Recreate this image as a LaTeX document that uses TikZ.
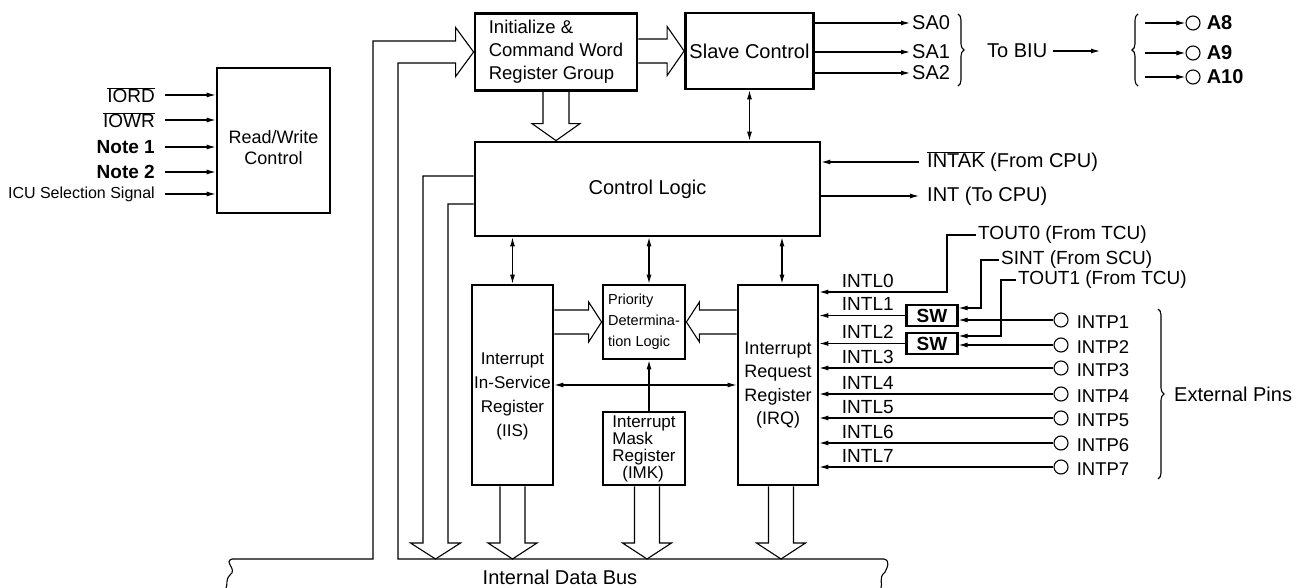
\documentclass[tikz,border=0pt]{standalone}
\usepackage{fontspec}
\setmainfont{Liberation Sans}
\usetikzlibrary{positioning, arrows.meta, calc, decorations.pathreplacing}

\begin{document}
\begin{tikzpicture}[
  x=1pt, y=-1pt,
  block/.style = {draw, line width=2.8pt, inner sep=0pt},
  sig/.style = {-{Latex[length=9pt,width=5pt]}, line width=1.1pt},
  bisig/.style = {{Latex[length=9pt,width=5pt]}-{Latex[length=9pt,width=5pt]}, line width=1.1pt},
  bus/.style = {line width=1.1pt, line join=miter},
  lbl/.style = {inner sep=2pt, font=\fontsize{19}{22}\selectfont},
  intl/.style = {lbl, anchor=south west, xshift=20pt, yshift=2pt},
  pin/.style = {draw, circle, line width=1.1pt, minimum size=14pt, inner sep=0pt},
  brc/.style = {decorate, decoration={brace, amplitude=6pt}, line width=1.1pt}
]
  \useasboundingbox (0,0) rectangle (1309,588);

  % Place the blocks
  \node[block, minimum width=113, minimum height=145,
    label={[lbl, align=center, yshift=-7pt, font=\fontsize{18}{21}\selectfont]center:{Read/Write\\Control}}] (rw) at (273.5,140.5) {};
  \node[block, minimum width=162, minimum height=77, align=left, font=\fontsize{18.5}{23}\selectfont] (init) at (556,52) {Initialize \&\\Command Word\\Register Group};
  \node[block, minimum width=128, minimum height=76, font=\fontsize{20}{24}\selectfont] (slave) at (749.5,51) {Slave Control};
  \node[block, minimum width=345, minimum height=94, font=\fontsize{20}{24}\selectfont] (ctrl) at (647.5,189) {Control Logic};
  \node[block, minimum width=81, minimum height=200,
    label={[lbl, align=center, yshift=-11pt, font=\fontsize{17}{24}\selectfont]center:{Interrupt\\In-Service\\Register\\(IIS)}}] (iis) at (512.5,385) {};
  \node[block, minimum width=82, minimum height=74, align=left, font=\fontsize{14.5}{21}\selectfont] (prio) at (644,322) {Priority\\Determina-\\tion Logic};
  \node[block, minimum width=82, minimum height=73, align=left, font=\fontsize{17}{17}\selectfont] (imk) at (644,448.5) {Interrupt\\Mask\\Register\\\hspace*{10pt}(IMK)};
  \node[block, minimum width=80, minimum height=200, align=center, font=\fontsize{18}{23.5}\selectfont] (irq) at (778,385) {Interrupt\\Request\\Register\\(IRQ)};
  \node[block, line width=2.3pt, minimum width=51, minimum height=21, font=\bfseries\fontsize{19}{22}\selectfont] (sw1) at (932,315.5) {SW};
  \node[block, line width=2.3pt, minimum width=51, minimum height=21, font=\bfseries\fontsize{19}{22}\selectfont] (sw2) at (932,343.5) {SW};

  % Read/Write inputs
  \node[lbl, anchor=east] (iord) at (157,95) {$\overline{\mbox{IORD}}$};
  \node[lbl, anchor=east] (iowr) at (157,120) {$\overline{\mbox{IOWR}}$};
  \node[lbl, anchor=east, font=\bfseries\fontsize{19}{22}\selectfont] (note1) at (157,147) {Note 1};
  \node[lbl, anchor=east, font=\bfseries\fontsize{19}{22}\selectfont] (note2) at (157,172) {Note 2};
  \node[lbl, anchor=east, font=\fontsize{16}{19}\selectfont] (icusel) at (157,194) {ICU Selection Signal};
  \draw[sig] ([xshift=8pt]iord.east) -- (iord.east -| rw.west);
  \draw[sig] ([xshift=8pt]iowr.east) -- (iowr.east -| rw.west);
  \draw[sig] ([xshift=8pt]note1.east) -- (note1.east -| rw.west);
  \draw[sig] ([xshift=8pt]note2.east) -- (note2.east -| rw.west);
  \draw[sig] ([xshift=8pt]icusel.east) -- (icusel.east -| rw.west);

  % Slave control outputs to the BIU
  \node[lbl, anchor=west, font=\fontsize{20}{24}\selectfont] (sa0) at (910,23) {SA0};
  \node[lbl, anchor=west, font=\fontsize{20}{24}\selectfont] (sa1) at (910,52) {SA1};
  \node[lbl, anchor=west, font=\fontsize{20}{24}\selectfont] (sa2) at (910,73) {SA2};
  \draw[sig] (slave.east |- sa0.west) -- (sa0.west);
  \draw[sig] (slave.east |- sa1.west) -- (sa1.west);
  \draw[sig] (slave.east |- sa2.west) -- (sa2.west);
  \coordinate (sabrtop) at (958,14);
  \coordinate (sabrbot) at (958,86);
  \draw[brc] (sabrtop) -- (sabrbot);
  \node[lbl, anchor=west, font=\fontsize{20}{24}\selectfont] (tobiu) at (985,51) {To BIU};
  \coordinate (biuend) at (1100,51);
  \draw[sig] ([xshift=4pt]tobiu.east) -- (biuend);
  \coordinate (abrbot) at (1138,86);
  \coordinate (abrtop) at (1138,14);
  \draw[brc] (abrbot) -- (abrtop);
  \node[pin] (a8) at (1193,23) {};
  \node[pin] (a9) at (1193,53) {};
  \node[pin] (a10) at (1193,77) {};
  \node[lbl, right=4pt of a8, font=\bfseries\fontsize{20}{24}\selectfont] (a8lbl) {A8};
  \node[lbl, right=4pt of a9, font=\bfseries\fontsize{20}{24}\selectfont] (a9lbl) {A9};
  \node[lbl, right=4pt of a10, font=\bfseries\fontsize{20}{24}\selectfont] (a10lbl) {A10};
  \draw[sig] ([xshift=-40pt]a8.west) -- (a8.west);
  \draw[sig] ([xshift=-40pt]a9.west) -- (a9.west);
  \draw[sig] ([xshift=-40pt]a10.west) -- (a10.west);

  \draw[bisig] (slave.south) -- (slave.south |- ctrl.north);

  % CPU handshake
  \node[lbl, anchor=west, font=\fontsize{20}{24}\selectfont] (intak) at (925,162) {$\overline{\mbox{INTAK}}$ (From CPU)};
  \node[lbl, anchor=west, font=\fontsize{20}{24}\selectfont] (int) at (925,196) {INT (To CPU)};
  \draw[sig] ([xshift=-6pt]intak.west) -- (intak.west -| ctrl.east);
  \draw[sig] (int.west -| ctrl.east) -- ([xshift=-6pt]int.west);

  % Internal interrupt sources
  \node[lbl, anchor=west] (tout0) at (976,235) {TOUT0 (From TCU)};
  \node[lbl, anchor=west] (sint) at (999,260) {SINT (From SCU)};
  \node[lbl, anchor=west] (tout1) at (1016,280) {TOUT1 (From TCU)};
  \draw[sig] (tout0.west) -- ++(-29,0) -- ++(0,57) coordinate (t0bend) -- (t0bend -| irq.east) node[intl] (intl0) {INTL0};
  \draw[sig] (sint.west) -- ++(-18,0) |- ($(sw1.east)+(0,-7.5)$);
  \draw[sig] (tout1.west) -- ++(-15,0) |- ($(sw2.east)+(0,-7.5)$);
  \draw[sig] (sw1.west) -- (sw1.west -| irq.east) node[intl] (intl1) {INTL1};
  \draw[sig] (sw2.west) -- (sw2.west -| irq.east) node[intl] (intl2) {INTL2};

  % External pins
  \node[pin] (intp1) at (1061,320) {};
  \node[pin] (intp2) at (1061,345) {};
  \node[pin] (intp3) at (1061,368) {};
  \node[pin] (intp4) at (1061,394) {};
  \node[pin] (intp5) at (1061,418) {};
  \node[pin] (intp6) at (1061,443) {};
  \node[pin] (intp7) at (1061,467) {};
  \node[lbl, right=6pt of intp1, yshift=-2pt, font=\fontsize{18.5}{22}\selectfont] (intp1lbl) {INTP1};
  \node[lbl, right=6pt of intp2, yshift=-2pt, font=\fontsize{18.5}{22}\selectfont] (intp2lbl) {INTP2};
  \node[lbl, right=6pt of intp3, yshift=-2pt, font=\fontsize{18.5}{22}\selectfont] (intp3lbl) {INTP3};
  \node[lbl, right=6pt of intp4, yshift=-2pt, font=\fontsize{18.5}{22}\selectfont] (intp4lbl) {INTP4};
  \node[lbl, right=6pt of intp5, yshift=-2pt, font=\fontsize{18.5}{22}\selectfont] (intp5lbl) {INTP5};
  \node[lbl, right=6pt of intp6, yshift=-2pt, font=\fontsize{18.5}{22}\selectfont] (intp6lbl) {INTP6};
  \node[lbl, right=6pt of intp7, yshift=-2pt, font=\fontsize{18.5}{22}\selectfont] (intp7lbl) {INTP7};
  \draw[sig] (intp1.west) -- (intp1.west -| sw1.east);
  \draw[sig] (intp2.west) -- (intp2.west -| sw2.east);
  \draw[sig] (intp3.west) -- (intp3.west -| irq.east) node[intl] (intl3) {INTL3};
  \draw[sig] (intp4.west) -- (intp4.west -| irq.east) node[intl] (intl4) {INTL4};
  \draw[sig] (intp5.west) -- (intp5.west -| irq.east) node[intl] (intl5) {INTL5};
  \draw[sig] (intp6.west) -- (intp6.west -| irq.east) node[intl] (intl6) {INTL6};
  \draw[sig] (intp7.west) -- (intp7.west -| irq.east) node[intl] (intl7) {INTL7};
  \coordinate (extbrtop) at (1158,309);
  \coordinate (extbrbot) at (1158,479);
  \draw[brc] (extbrtop) -- (extbrbot);
  \node[lbl, anchor=west, font=\fontsize{20}{24}\selectfont] (extpins) at (1172,394) {External Pins};

  % Control Logic <-> registers
  \draw[bisig] (iis.north |- ctrl.south) -- (iis.north);
  \coordinate (prioin) at ($(prio.north)+(5,0)$);
  \draw[bisig] (prioin |- ctrl.south) -- (prioin);
  \coordinate (irqin) at ($(irq.north)+(4,0)$);
  \draw[bisig] (irqin |- ctrl.south) -- (irqin);
  \draw[bisig] (iis.east) -- (irq.west);
  \coordinate (imkout) at ($(imk.north)+(5,0)$);
  \draw[sig] (imkout) -- (imkout |- prio.south);

  % Internal data bus
  \coordinate (busL) at (232,559);
  \coordinate (busR) at (884,559);
  \coordinate (riser) at (385.5,300);
  \coordinate (ctrlbus) at (435.5,300);
  \path[draw, bus]
    let
      \p1 = (init.west), \p2 = (busL), \p3 = (busR), \p4 = (riser)
    in
      (\x2,\y2) -- (\x4-12.5pt,\y2) -- (\x4-12.5pt,\y1+11pt) -- (\x1-18pt,\y1+11pt)
        -- (\x1-18pt,\y1+24.5pt) -- (\x1,\y1) -- (\x1-18pt,\y1-24.5pt) -- (\x1-18pt,\y1-11pt)
        -- (\x4+12.5pt,\y1-11pt) -- (\x4+12.5pt,\y2) -- (\x3,\y3)
  ;
  \draw[bus] (busL) .. controls ($(busL)+(-9,3)$) and ($(busL)+(6,10)$) .. ($(busL)+(-2,16)$)
    .. controls ($(busL)+(-7,21)$) and ($(busL)+(-4,26)$) .. ($(busL)+(-6,29)$);
  \draw[bus] (busR) .. controls ($(busR)+(7,2)$) and ($(busR)+(3,9)$) .. ($(busR)+(1,13)$)
    .. controls ($(busR)+(-6,19)$) and ($(busR)+(-1,25)$) .. ($(busR)+(-3,29)$);
  \node[lbl, font=\fontsize{20}{24}\selectfont] (busname) at (560,577) {Internal Data Bus};

  % Hollow bus arrows
  \path[draw, bus]
    let \p1 = (init.east), \p2 = (slave.west) in
      (\x1,\y2+12pt) -- (\x2-17pt,\y2+12pt) -- (\x2-17pt,\y2+24.5pt) -- (\x2,\y2)
        -- (\x2-17pt,\y2-24.5pt) -- (\x2-17pt,\y2-12pt) -- (\x1,\y2-12pt)
  ;
  \path[draw, bus]
    let \p1 = (init.south), \p2 = (ctrl.north) in
      (\x1-13pt,\y1) -- (\x1-13pt,\y2+17pt) -- (\x1-24pt,\y2+17pt) -- (\x1,\y2)
        -- (\x1+24pt,\y2+17pt) -- (\x1+13pt,\y2+17pt) -- (\x1+13pt,\y1)
  ;
  \path[draw, bus]
    let \p1 = (ctrl.west), \p2 = (busL), \p3 = (ctrlbus) in
      (\x1,\y1+13pt) -- (\x3-12.5pt,\y1+13pt) -- (\x3-12.5pt,\y2+16pt) -- (\x3-25pt,\y2+16pt)
        -- (\x3,\y2) -- (\x3+25pt,\y2+16pt) -- (\x3+12.5pt,\y2+16pt) -- (\x3+12.5pt,\y1-15pt)
        -- (\x1,\y1-15pt)
  ;
  \path[draw, bus]
    let \p1 = (iis.south), \p2 = (busL) in
      (\x1-12.5pt,\y1) -- (\x1-12.5pt,\y2+16pt) -- (\x1-24.5pt,\y2+16pt) -- (\x1,\y2)
        -- (\x1+24.5pt,\y2+16pt) -- (\x1+12.5pt,\y2+16pt) -- (\x1+12.5pt,\y1)
  ;
  \path[draw, bus]
    let \p1 = ($(imk.south)+(3,0)$), \p2 = (busL) in
      (\x1-12.5pt,\y1) -- (\x1-12.5pt,\y2+16pt) -- (\x1-24.5pt,\y2+16pt) -- (\x1,\y2)
        -- (\x1+24.5pt,\y2+16pt) -- (\x1+12.5pt,\y2+16pt) -- (\x1+12.5pt,\y1)
  ;
  \path[draw, bus]
    let \p1 = ($(irq.south)+(3,0)$), \p2 = (busL) in
      (\x1-12.5pt,\y1) -- (\x1-12.5pt,\y2+16pt) -- (\x1-24.5pt,\y2+16pt) -- (\x1,\y2)
        -- (\x1+24.5pt,\y2+16pt) -- (\x1+12.5pt,\y2+16pt) -- (\x1+12.5pt,\y1)
  ;
  \path[draw, bus]
    let \p1 = (iis.east), \p2 = (prio.west) in
      (\x1,\y2+12pt) -- (\x2-13pt,\y2+12pt) -- (\x2-13pt,\y2+20pt) -- (\x2,\y2)
        -- (\x2-13pt,\y2-20pt) -- (\x2-13pt,\y2-12pt) -- (\x1,\y2-12pt)
  ;
  \path[draw, bus]
    let \p1 = (irq.west), \p2 = (prio.east) in
      (\x1,\y2+12pt) -- (\x2+13pt,\y2+12pt) -- (\x2+13pt,\y2+20pt) -- (\x2,\y2)
        -- (\x2+13pt,\y2-20pt) -- (\x2+13pt,\y2-12pt) -- (\x1,\y2-12pt)
  ;
\end{tikzpicture}
\end{document}
